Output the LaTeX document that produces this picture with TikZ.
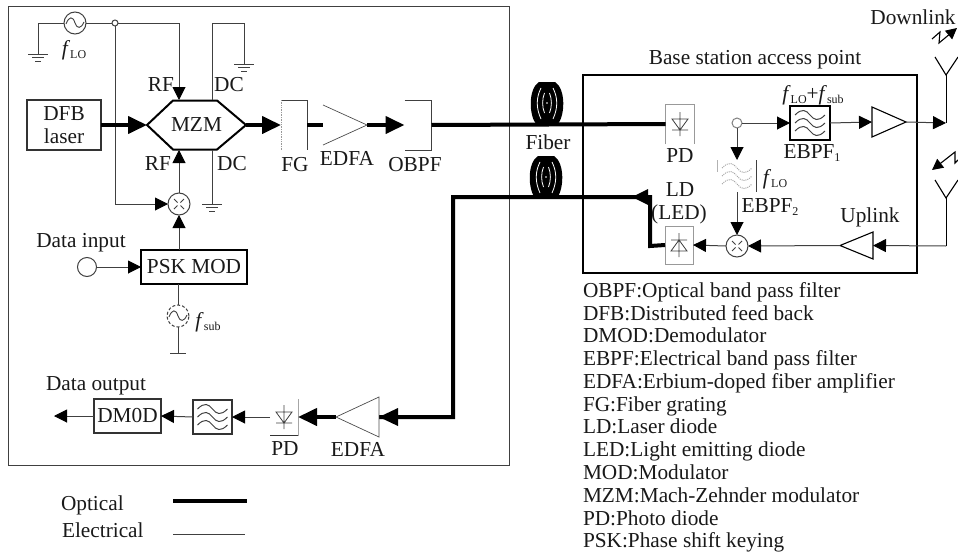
\documentclass[tikz,border=0pt]{standalone}
\usepackage{fontspec}
\setmainfont{Liberation Serif}
\usetikzlibrary{arrows.meta,calc}
\newcommand\fsb[1]{\textit{f}\raisebox{-3pt}{\fontsize{12}{12}\selectfont #1}}
\newcommand\nsb[1]{\raisebox{-3pt}{\fontsize{12}{12}\selectfont #1}}
\tikzset{
  x=1pt,y=-1pt,
  every node/.style={font=\fontsize{21.3}{23}\selectfont,inner sep=0pt,outer sep=0pt,text=black!90},
  thin line/.style={draw=black!75,line width=1pt},
  opt/.style={draw=black,line width=4pt},
  earrow/.style={thin line,-{Triangle[length=13pt,width=13pt,fill=black,color=black]}},
  oarrow/.style={opt,-{Triangle[length=19pt,width=17pt]}},
  zarrow/.style={draw=black,line width=1.1pt,-{Triangle[length=11pt,width=11pt]}},
  box/.style={draw=black!80,line width=1.2pt,minimum width=#1},
  ghost/.style={minimum width=#1},
  round/.style={circle,draw=black!75,line width=1pt,minimum size=#1,fill=white},
}
\newcommand\oscsym[1]{\draw[black!75,line width=.9pt] ($(#1)+(-9,1)$) .. controls ($(#1)+(-6,-7)$) and ($(#1)+(-2,-7)$) .. ($(#1)+(0,0)$) .. controls ($(#1)+(2,6)$) and ($(#1)+(6,6)$) .. ($(#1)+(9,-1)$);}
\newcommand\mixsym[1]{\draw[black!75,line width=.9pt] ($(#1)+(-5,-5)$) -- ($(#1)+(-1.5,-1.5)$) ($(#1)+(5,5)$) -- ($(#1)+(1.5,1.5)$) ($(#1)+(5,-5)$) -- ($(#1)+(1.5,-1.5)$) ($(#1)+(-5,5)$) -- ($(#1)+(-1.5,1.5)$);}
\newcommand\gndsym[1]{\draw[black!75,line width=.9pt] ($(#1)+(-10,0)$) -- ($(#1)+(10,0)$) ($(#1)+(-6,3.5)$) -- ($(#1)+(6,3.5)$) ($(#1)+(-3,7)$) -- ($(#1)+(3,7)$);}
\newcommand\wavesym[2][black!75]{\foreach \d in {-8,0,8}{\draw[#1,line width=1pt] ($(#2)+(-15,\d)$) .. controls ($(#2)+(-8,{\d-7})$) and ($(#2)+(-4,{\d-5})$) .. ($(#2)+(0,\d)$) .. controls ($(#2)+(4,{\d+5})$) and ($(#2)+(8,{\d+7})$) .. ($(#2)+(15,\d)$);}}
\newcommand\diodedown[1]{\draw[black!75,line width=.8pt] ($(#1)+(0,-12)$) -- ($(#1)+(0,12)$) ($(#1)+(-8,-5)$) -- ($(#1)+(8,-5)$) -- ($(#1)+(0,6)$) -- cycle ($(#1)+(-8,6)$) -- ($(#1)+(8,6)$);}
\newcommand\diodeup[1]{\draw[black!75,line width=.8pt] ($(#1)+(0,-12)$) -- ($(#1)+(0,12)$) ($(#1)+(-8,6)$) -- ($(#1)+(8,6)$) -- ($(#1)+(0,-5)$) -- cycle ($(#1)+(-8,-5)$) -- ($(#1)+(8,-5)$);}
\newcommand\coilsym[1]{
  \fill[black] ($(#1)+(-8,-21)$) -- ($(#1)+(8,-21)$) .. controls ($(#1)+(19,-14)$) and ($(#1)+(18,12)$) .. ($(#1)+(11,21)$) -- ($(#1)+(-11,21)$) .. controls ($(#1)+(-18,12)$) and ($(#1)+(-19,-14)$) .. cycle;
  \draw[white,line width=.8pt] ($(#1)+(-6,-15)$) .. controls ($(#1)+(-11,-5)$) and ($(#1)+(-11,5)$) .. ($(#1)+(-6,16)$)
    ($(#1)+(6,-15)$) .. controls ($(#1)+(11,-5)$) and ($(#1)+(11,5)$) .. ($(#1)+(6,16)$)
    ($(#1)+(-2.5,-10)$) .. controls ($(#1)+(-5,-4)$) and ($(#1)+(-5,4)$) .. ($(#1)+(-2.5,10)$)
    ($(#1)+(2.5,-10)$) .. controls ($(#1)+(5,-4)$) and ($(#1)+(5,4)$) .. ($(#1)+(2.5,10)$);
  \fill[white] (#1) circle (.8pt);}
\begin{document}
\begin{tikzpicture}
\useasboundingbox (0,0) rectangle (958,554);
% frames
\node[draw=black!75,line width=1pt,minimum width=501pt,minimum height=459pt] (central) at (258.5,235.5) {};
\node[draw=black,line width=1.1pt,minimum width=334pt,minimum height=198pt] (bs) at (750,174) {};
% laser and modulator
\node[box=74pt,minimum height=50pt,align=center] (dfb) at (64,125) {DFB\\laser};
\node[minimum width=99pt,minimum height=49pt] (mzm) at (196.5,125) {MZM};
\draw[black,line width=2pt,line join=miter] (mzm.west) -- (173,100.5) -- (217,100.5) -- (mzm.east) -- (217,149.5) -- (173,149.5) -- cycle;
\coordinate (rfA) at (179,100);
\coordinate (rfB) at (179,150);
\coordinate (dcA) at (212,100);
\coordinate (dcB) at (212,150);
\node[round=22pt] (lo) at (75,23) {};
\oscsym{lo}
\node at (74,50) {\fsb{LO}};
\node[round=6pt] (jn) at (115,23) {};
\coordinate (g1) at (38,54);
\coordinate (g2) at (244,64);
\coordinate (g3) at (212,204);
\coordinate (t1) at (179,23);
\coordinate (t2) at (212,23);
\coordinate (t3) at (244,23);
\coordinate (t4) at (115,204);
\gndsym{g1}\gndsym{g2}\gndsym{g3}
\draw[thin line] (g1) |- (lo.west);
\draw[thin line] (lo.east) -- (jn.west);
\draw[earrow] (jn.east) -- (t1) -- (rfA);
\draw[thin line] (dcA) -- (t2) -- (t3) -- (g2);
\draw[thin line] (dcB) -- (g3);
\node[round=22pt] (mix) at (179,204) {};
\mixsym{mix}
\draw[earrow] (jn.south) -- (t4) -- (mix.west);
\draw[earrow] (mix.north) -- (rfB);
\node at (161,85) {RF};
\node at (229,85) {DC};
\node at (158,164) {RF};
\node at (232,164) {DC};
\node[box=106pt,minimum height=34pt,draw=black,line width=1.4pt] (psk) at (194,267) {PSK MOD};
\draw[earrow] (psk.north -| mix) -- (mix.south);
\node[round=19pt] (din) at (87,267) {};
\node at (81,243) {Data input};
\draw[earrow] (din.east) -- (psk.west);
\node[round=22pt,densely dashed] (sub) at (178,316) {};
\oscsym{sub}
\node at (208,322) {\fsb{sub}};
\coordinate (subend) at (178,353);
\draw[thin line] (psk.south -| sub) -- (sub.north);
\draw[thin line] (sub.south) -- (subend);
\draw[thin line] ($(subend)+(-8,0)$) -- ($(subend)+(8,0)$);
% forward optical chain
\node[ghost=26pt,minimum height=50pt] (fg) at (294,125) {};
\draw[thin line] (fg.north west) -- (fg.north east) -- (fg.south east);
\draw[black!40,line width=.7pt,densely dotted] (fg.north west) -- (fg.south west);
\node at (295,165) {FG};
\node[minimum width=44pt,minimum height=40pt] (edfa) at (345,125) {};
\draw[black!70,line width=.7pt] (edfa.north west) -- (edfa.east) -- (edfa.south west);
\node at (347,158) {EDFA};
\node[ghost=27pt,minimum height=50pt] (obpf) at (418,125) {};
\draw[thin line] (obpf.north west) -- (obpf.north east) -- (obpf.south east) -- (obpf.south west);
\node at (415,165) {OBPF};
\draw[oarrow] (dfb.east) -- (mzm.west);
\draw[oarrow] (mzm.east) -- (fg.west);
\draw[opt] (fg.east) -- (edfa.west);
\draw[oarrow] (edfa.east) -- (obpf.west);
% base station
\node[ghost=29pt,minimum height=40pt] (pd) at (680,124) {};
\draw[black!40,line width=.7pt] (pd.south west) -- (pd.north west) -- (pd.north east) -- (pd.south east);
\diodedown{pd}
\node at (680,156) {PD};
\draw[opt] (obpf.east) -- (pd.west);
\node (coilA) at (547,103) {};
\coilsym{coilA}
\node at (548,142) {Fiber};
\node (coilB) at (546,177) {};
\coilsym{coilB}
\node at (755,60) {Base station access point};
\node at (913,17) {Downlink};
\node[round=10pt,draw=black!50] (bj) at (737,123) {};
\node[draw=black,line width=1.3pt,minimum width=40pt,minimum height=34pt] (fA) at (810,123) {};
\wavesym{fA}
\node at (813,95) {\fsb{LO}+\fsb{sub}};
\node at (812,153) {EBPF\nsb{1}};
\draw[earrow] (bj.east) -- (fA.west);
\node[minimum width=34pt,minimum height=30pt] (ampA) at (889,122) {};
\draw[black,line width=1.1pt] (ampA.north west) -- (ampA.east) -- (ampA.south west) -- cycle;
\draw[earrow] (fA.east) -- (ampA.west);
\coordinate (antA) at (946,75);
\coordinate (antAc) at (946,123);
\draw[black,line width=1pt] (antAc) -- (antA);
\draw[earrow] (ampA.east) -- (antAc);
\draw[black,line width=1.1pt] (935,57) -- (antA) -- (958,57);
\coordinate (zA) at (932,39);
\draw[zarrow] (zA) -- (940,32) -- (939,43) -- (957,28);
% EBPF2
\node[minimum width=38pt,minimum height=32pt] (fB) at (737,176) {};
\wavesym[black!35,densely dotted]{fB}
\draw[thin line] (fB.north east) -- (fB.south east);
\draw[black!30,line width=.7pt] ($(fB.north west)+(-1,0)$) -- +(0,12);
\node at (775,179) {\fsb{LO}};
\node at (770,207) {EBPF\nsb{2}};
\draw[earrow] (bj.south) -- (fB.north);
\node[round=22pt] (mixB) at (737,246) {};
\mixsym{mixB}
\draw[earrow] (fB.south) -- (mixB.north);
% uplink
\coordinate (antB) at (946,198);
\coordinate (antBc) at (946,246);
\draw[black,line width=1.1pt] (935,180) -- (antB) -- (958,180);
\node[minimum width=33pt,minimum height=27pt] (ampB) at (856.5,245.5) {};
\draw[black,line width=1.1pt] (ampB.west) -- (ampB.north east) -- (ampB.south east) -- cycle;
\draw[black,line width=1pt] (antB) -- (antBc);
\draw[earrow] (antBc) -- (ampB.east);
\draw[earrow] (ampB.west) -- (mixB.east);
\node at (870,217) {Uplink};
\coordinate (zB) at (958,160);
\draw[zarrow] (zB) -- (955,163) -- (955,152) -- (932,170);
\node[ghost=28pt,minimum height=38pt] (ld) at (679,245) {};
\draw[black!40,line width=.7pt] (ld.south west) rectangle (ld.north east);
\diodeup{ld}
\draw[earrow] (mixB.west) -- (ld.east);
\node at (680,190) {LD};
\node at (679,214) {(LED)};
% return optical path
\coordinate (r1) at (650,246);
\coordinate (r2) at (650,197);
\coordinate (r3) at (632,197);
\coordinate (r4) at (453,197);
\coordinate (r5) at (453,417);
\draw[opt,line join=miter] (ld.west) -- (r1) -- (r2) -- (r4) -- (r5) -- (379,417);
\node[minimum width=43pt,minimum height=40pt] (edfaB) at (357.5,417) {};
\draw[black!70,line width=.7pt] (edfaB.west) -- (edfaB.north east) -- (edfaB.south east) -- cycle;
\fill[black] (r3) -- ++(16,-8) -- ++(0,16) -- cycle;
\fill[black] (edfaB.east) -- ++(19,-9) -- ++(0,18) -- cycle;
\node at (358,449) {EDFA};
\node[ghost=28pt,minimum height=37pt] (pdB) at (284,417) {};
\draw[black!80,line width=1.2pt] (pdB.south west) -- (pdB.south east);
\draw[black!35,line width=.7pt] (pdB.south east) -- (pdB.north east);
\diodedown{pdB}
\node at (285,449) {PD};
\draw[oarrow] (edfaB.west) -- (pdB.east);
\node[draw=black!80,line width=1.1pt,minimum width=39pt,minimum height=34pt] (fC) at (212.5,417) {};
\wavesym{fC}
\draw[earrow] (pdB.west) -- (fC.east);
\node[box=67pt,minimum height=34pt] (dem) at (127.5,416) {DM0D};
\draw[earrow] (fC.west) -- (dem.east);
\coordinate (dout) at (54,416);
\draw[earrow] (dem.west) -- (dout);
\node at (96,386) {Data output};
% line-style key
\node[anchor=base west] (kA) at (61,510) {Optical};
\node[anchor=base west] (kB) at (62,537) {Electrical};
\coordinate (kA1) at (173,501);
\coordinate (kA2) at (247,501);
\coordinate (kB1) at (173,534);
\coordinate (kB2) at (245,534);
\draw[opt] (kA1) -- (kA2);
\draw[thin line] (kB1) -- (kB2);
% abbreviations
\foreach \i/\t/\yy in {a/OBPF:Optical band pass filter/297,b/DFB:Distributed feed back/320,c/DMOD:Demodulator/342.6,d/EBPF:Electrical band pass filter/365.4,e/EDFA:Erbium-doped fiber amplifier/388.2,f/FG:Fiber grating/411,g/LD:Laser diode/433.8,h/LED:Light emitting diode/456.6,i/MOD:Modulator/479.4,j/MZM:Mach-Zehnder modulator/502.2,k/PD:Photo diode/525,l/PSK:Phase shift keying/547.8}
  \node[anchor=base west] (abbr\i) at (583,\yy) {\t};
\end{tikzpicture}
\end{document}
